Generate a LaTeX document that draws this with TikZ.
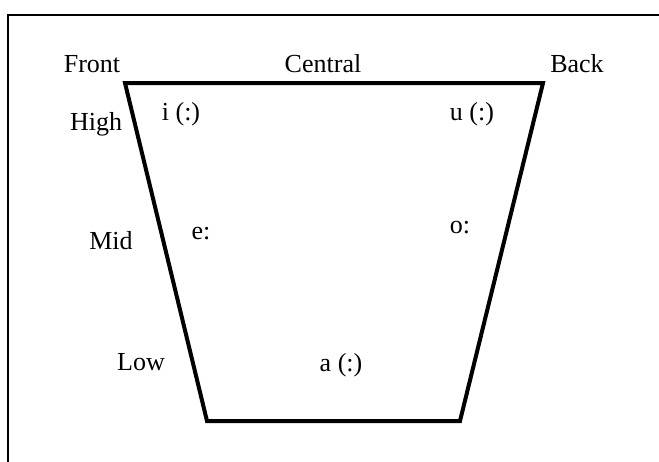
\documentclass[tikz,border=0pt]{standalone}
\usepackage{fontspec}
\setmainfont{Liberation Serif}
\usepackage{tikz}
\usetikzlibrary{positioning}
\tikzset{
    chartlabel/.style={font=\fontsize{26}{30}\selectfont, inner sep=0pt, anchor=base},
    vowel/.style={chartlabel},
    frameline/.style={line width=2pt, draw=black},
    chartline/.style={line width=4pt, draw=black, line join=miter}
}

\begin{document}
\begin{tikzpicture}[x=1pt, y=-1pt]
    \useasboundingbox (0,0) rectangle (659,461);
    \clip (0,0) rectangle (659,461);
    \fill[white] (0,0) rectangle (659,461);

    % outer frame (cut off at right and bottom)
    \coordinate (frameBL) at (7.5,470);
    \coordinate (frameTL) at (7.5,14.5);
    \coordinate (frameTR) at (670,14.5);
    \draw[frameline] (frameBL) -- (frameTL) -- (frameTR);

    % vowel trapezoid
    \coordinate (frontHigh) at (125,83);
    \coordinate (backHigh) at (543,83);
    \coordinate (backLow) at (460,421);
    \coordinate (frontLow) at (207,421);
    \draw[chartline] (frontHigh) -- (backHigh) -- (backLow) -- (frontLow) -- cycle;

    % axis labels
    \node[chartlabel] (front) at (92,72) {Front};
    \node[chartlabel] (central) at (323,72) {Central};
    \node[chartlabel] (back) at (577,72) {Back};
    \node[chartlabel] (high) at (96,130) {High};
    \node[chartlabel] (mid) at (111,249) {Mid};
    \node[chartlabel] (low) at (141,370) {Low};

    % vowels
    \node[vowel] (vi) at (181,120) {i (:)};
    \node[vowel] (vu) at (472,120) {u (:)};
    \node[vowel] (ve) at (201,239) {e:};
    \node[vowel] (vo) at (460,233) {o:};
    \node[vowel] (va) at (341,371) {a (:)};
\end{tikzpicture}
\end{document}
